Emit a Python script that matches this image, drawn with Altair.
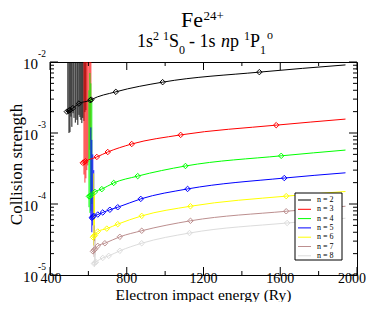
import altair as alt
import pandas as pd

# ---------------- data ----------------
series_n = ["n = 2", "n = 3", "n = 4", "n = 5", "n = 6", "n = 7", "n = 8"]
series_colors = ["#000000", "#ff0000", "#00ff00", "#0000ff", "#ffff00", "#bc8f8f", "#dcdcdc"]
spike_opacity = [0.9, 0.75, 0.85, 0.9, 0.9, 0.9, 0.9]

# diamonds (energy in Ry, collision strength)
n2_E = [488, 497, 504, 519, 551, 610, 615, 743, 987, 1491]
n2_V = [2.0e-3, 2.05e-3, 2.1e-3, 2.24e-3, 2.6e-3, 2.9e-3, 2.95e-3, 3.8e-3, 5.2e-3, 7.2e-3]
n3_E = [571, 578, 585, 644, 701, 826, 1081, 1579]
n3_V = [3.8e-4, 3.9e-4, 4.0e-4, 4.6e-4, 5.4e-4, 7.0e-4, 9.4e-4, 1.29e-3]
n4_E = [603, 608, 613, 634, 670, 732, 857, 1106, 1605]
n4_V = [1.28e-4, 1.30e-4, 1.33e-4, 1.48e-4, 1.62e-4, 1.98e-4, 2.47e-4, 3.43e-4, 4.77e-4]
n5_E = [618, 623, 628, 649, 675, 712, 753, 873, 1117, 1621]
n5_V = [6.4e-5, 6.6e-5, 6.8e-5, 7.1e-5, 7.6e-5, 8.3e-5, 9.0e-5, 1.18e-4, 1.63e-4, 2.32e-4]
n6_E = [624, 629, 634, 649, 696, 753, 878, 1132, 1631]
n6_V = [3.4e-5, 3.55e-5, 3.6e-5, 4.1e-5, 4.5e-5, 5.2e-5, 6.8e-5, 9.3e-5, 1.29e-4]
n7_E = [624, 629, 634, 649, 686, 764, 878, 1132, 1631]
n7_V = [2.15e-5, 2.24e-5, 2.3e-5, 2.57e-5, 2.8e-5, 3.45e-5, 4.2e-5, 5.8e-5, 7.9e-5]
n8_E = [629, 634, 639, 675, 706, 764, 878, 1127, 1636]
n8_V = [1.45e-5, 1.48e-5, 1.52e-5, 1.74e-5, 1.86e-5, 2.19e-5, 2.8e-5, 3.9e-5, 5.4e-5]

# end of fitted curves
curve_end_E = 1940
curve_end_V = [9.1e-3, 1.57e-3, 5.75e-4, 2.75e-4, 1.5e-4, 9.3e-5, 6.3e-5]

# resonance spikes: energy, low, high
sp2_E = [493, 499, 504, 509, 514, 520, 525, 532, 540, 545, 551, 556, 561, 566, 571, 577, 582, 587]
sp2_lo = [1.9e-3, 1.0e-3, 1.03e-3, 1.7e-3, 1.22e-3, 1.9e-3, 1.63e-3, 1.4e-3, 1.53e-3, 1.3e-3, 1.8e-3,
          1.68e-3, 1.53e-3, 1.38e-3, 1.63e-3, 1.48e-3, 1.97e-3, 2.1e-3]
sp2_hi = [1e-2] * 18
sp3_E = [577, 582, 587, 592, 597, 603, 608, 613]
sp3_lo = [2.6e-4, 2.0e-4, 2.3e-4, 3.0e-4, 3.5e-4, 4.2e-4, 5.8e-4, 7.9e-4]
sp3_hi = [1e-2] * 8
sp4_E = [603, 608, 613, 618]
sp4_lo = [9.0e-5, 7.5e-5, 8.0e-5, 1.0e-4]
sp4_hi = [4.0e-3, 7.0e-3, 5.0e-3, 3.0e-3]
sp5_E = [613, 618, 623, 628]
sp5_lo = [6.0e-5, 4.0e-5, 5.0e-5, 6.0e-5]
sp5_hi = [1.2e-3, 8.0e-4, 5.0e-4, 3.0e-4]
sp6_E = [628, 632]
sp6_lo = [2.6e-5, 2.8e-5]
sp6_hi = [2.7e-4, 1.5e-4]
sp7_E = [630, 634]
sp7_lo = [1.8e-5, 1.9e-5]
sp7_hi = [5.0e-5, 4.0e-5]
sp8_E = [632, 636]
sp8_lo = [1.3e-5, 1.4e-5]
sp8_hi = [3.0e-5, 2.5e-5]

x_major = [400, 800, 1200, 1600, 2000]
x_label_shift = [1, 0, 0, 0, -5]
x_minor = [600, 1000, 1400, 1800]
y_major = [1e-2, 1e-3, 1e-4, 1e-5]
y_major_exp = ["-2", "-3", "-4", "-5"]
y_minor = [m * 10.0 ** d for d in (-5, -4, -3) for m in range(2, 10)]

title_main = "Fe"
title_sup = "24+"
x_title = "Electron impact energy (Ry)"
y_title = "Collision strength"

# ---------------- build tables ----------------
dE = [n2_E, n3_E, n4_E, n5_E, n6_E, n7_E, n8_E]
dV = [n2_V, n3_V, n4_V, n5_V, n6_V, n7_V, n8_V]
sE = [sp2_E, sp3_E, sp4_E, sp5_E, sp6_E, sp7_E, sp8_E]
sL = [sp2_lo, sp3_lo, sp4_lo, sp5_lo, sp6_lo, sp7_lo, sp8_lo]
sH = [sp2_hi, sp3_hi, sp4_hi, sp5_hi, sp6_hi, sp7_hi, sp8_hi]

pts, curve, spikes = [], [], []
for i, n in enumerate(series_n):
    for e, v in zip(dE[i], dV[i]):
        pts.append({"E": e, "V": v, "n": n, "o": i})
        curve.append({"E": e, "V": v, "n": n, "o": i})
    curve.append({"E": curve_end_E, "V": curve_end_V[i], "n": n, "o": i})
    for e, lo, hi in zip(sE[i], sL[i], sH[i]):
        spikes.append({"E": e, "lo": lo, "hi": hi, "n": n, "o": i})

pts = pd.DataFrame(pts)
curve = pd.DataFrame(curve)
spikes = pd.DataFrame(spikes)

W, H = 307, 213
FONT = "Liberation Serif"
xs = alt.Scale(domain=[400, 2000], nice=False, zero=False)
ys = alt.Scale(type="log", domain=[1e-5, 1e-2], nice=False)
cs = alt.Scale(domain=series_n, range=series_colors)
col = alt.Color("n:N", scale=cs, legend=None)

layers = []
for i, n in enumerate(series_n):
    layers.append(
        alt.Chart(spikes[spikes.n == n]).mark_rule(strokeWidth=1, opacity=spike_opacity[i]).encode(
            x=alt.X("E:Q", scale=xs, axis=None),
            y=alt.Y("lo:Q", scale=ys, axis=None),
            y2="hi:Q",
            color=col,
        )
    )
for i, n in enumerate(series_n):
    layers.append(
        alt.Chart(curve[curve.n == n]).mark_line(strokeWidth=1, interpolate="monotone").encode(
            x=alt.X("E:Q", scale=xs, axis=None),
            y=alt.Y("V:Q", scale=ys, axis=None),
            color=col,
        )
    )
layers.append(
    alt.Chart(pts).mark_point(shape="diamond", filled=False, size=30, strokeWidth=1, opacity=1).encode(
        x=alt.X("E:Q", scale=xs, axis=None),
        y=alt.Y("V:Q", scale=ys, axis=None),
        color=col,
    )
)

# ---- ticks (inward) ----
def yticks(vals, length):
    df = pd.DataFrame({"v": vals})
    left = alt.Chart(df).mark_rule(color="black", strokeWidth=1).encode(
        y=alt.Y("v:Q", scale=ys, axis=None), x=alt.value(0), x2=alt.value(length))
    right = alt.Chart(df).mark_rule(color="black", strokeWidth=1).encode(
        y=alt.Y("v:Q", scale=ys, axis=None), x=alt.value(W), x2=alt.value(W - length))
    return [left, right]

def xticks(vals, length):
    df = pd.DataFrame({"v": vals})
    bot = alt.Chart(df).mark_rule(color="black", strokeWidth=1).encode(
        x=alt.X("v:Q", scale=xs, axis=None), y=alt.value(H), y2=alt.value(H - length))
    top = alt.Chart(df).mark_rule(color="black", strokeWidth=1).encode(
        x=alt.X("v:Q", scale=xs, axis=None), y=alt.value(0), y2=alt.value(length))
    return [bot, top]

layers += yticks(y_major, 8) + yticks(y_minor, 4) + xticks(x_major, 8) + xticks(x_minor, 4)

# ---- tick labels ----
for v, sh in zip(x_major, x_label_shift):
    xl = pd.DataFrame({"v": [v], "t": [str(v)]})
    layers.append(
        alt.Chart(xl).mark_text(font=FONT, fontSize=14, baseline="middle", align="center", dx=sh,
                                color="black").encode(
            x=alt.X("v:Q", scale=xs, axis=None), y=alt.value(H + 4), text="t:N")
    )
yl = pd.DataFrame({"v": y_major, "e": y_major_exp, "b": ["10"] * 4})
layers.append(
    alt.Chart(yl).mark_text(font=FONT, fontSize=15, baseline="middle", align="right", dy=2, color="black").encode(
        y=alt.Y("v:Q", scale=ys, axis=None), x=alt.value(-12), text="b:N")
)
layers.append(
    alt.Chart(yl).mark_text(font=FONT, fontSize=9.5, baseline="middle", align="left", dy=-8, color="black").encode(
        y=alt.Y("v:Q", scale=ys, axis=None), x=alt.value(-12), text="e:N")
)

one = pd.DataFrame({"a": [0]})

def txt(s, x, y, size, align="left", baseline="alphabetic", angle=0, style="normal"):
    kw = dict(font=FONT, fontSize=size, align=align, baseline=baseline, color="black", fontStyle=style)
    if angle:
        kw["angle"] = angle
    return alt.Chart(one).mark_text(**kw).encode(x=alt.value(x), y=alt.value(y), text=alt.value(s))

# axis titles
layers.append(txt(x_title, W / 2, 237.5, 15.5, align="center"))
layers.append(txt(y_title, -33, H / 2 - 4, 17, align="center", baseline="middle", angle=270))

# main title Fe^24+
layers.append(txt(title_main, 153, -35, 22, align="right"))
layers.append(txt(title_sup, 153.5, -42.5, 13))

# subtitle 1s2 1S0 - 1s np 1P1o
oy = -15
F, f = 18, 12
pieces = [
    ("1s", 0, F, 0, "normal"),
    ("2", 16, f, -7, "normal"),
    ("1", 26, f, -7, "normal"),
    ("S", 32, F, 0, "normal"),
    ("0", 42, f, 7, "normal"),
    ("- 1s", 52, F, 0, "normal"),
    ("n", 84, F, 0, "italic"),
    ("p", 93, F, 0, "normal"),
    ("1", 107, f, -7, "normal"),
    ("P", 113, F, 0, "normal"),
    ("1", 123, f, 7, "normal"),
    ("o", 130, f, -8, "normal"),
]
for s, dx, size, dyy, st in pieces:
    layers.append(txt(s, 87 + dx, oy + dyy, size, style=st))

# legend (manual)
layers.append(
    alt.Chart(one).mark_rect(fill="white", stroke="black", strokeWidth=1).encode(
        x=alt.value(245), x2=alt.value(292), y=alt.value(131), y2=alt.value(198))
)
for i, (n, c) in enumerate(zip(series_n, series_colors)):
    yy = 138 + i * 9.3
    layers.append(
        alt.Chart(one).mark_rule(color=c, strokeWidth=1).encode(
            x=alt.value(248), x2=alt.value(261), y=alt.value(yy))
    )
    layers.append(txt(n, 267, yy, 8, baseline="middle"))

chart = alt.layer(*layers).properties(
    width=W, height=H,
    padding={"left": 42, "top": 54, "right": 9, "bottom": 27},
    autosize=alt.AutoSizeParams(type="none"),
).configure_view(stroke="black", strokeWidth=1)

chart.save("out.html", embed_options={"renderer": "svg", "actions": False})
